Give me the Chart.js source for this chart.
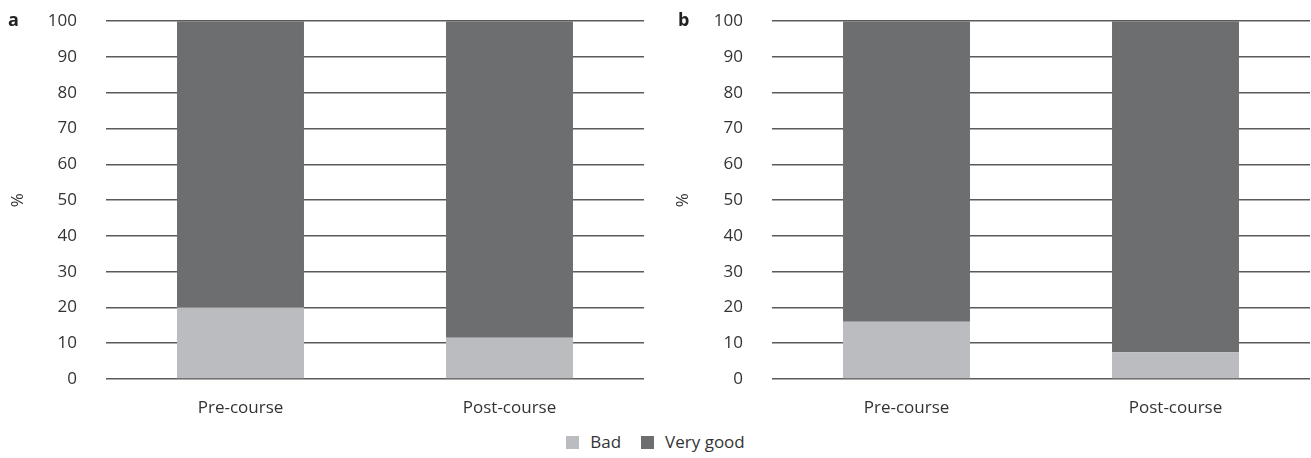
<!DOCTYPE html>
<html><head><meta charset="utf-8">
<script src="https://cdn.jsdelivr.net/npm/chart.js@4/dist/chart.umd.min.js"></script>
<style>
html,body{margin:0;padding:0;background:#fff;overflow:hidden;}
#wrap{position:relative;width:1311px;height:458px;font-family:"Open Sans",sans-serif;overflow:hidden;}
#ca{position:absolute;left:0;top:-18px;}
#cb{position:absolute;left:655px;top:-18px;}
#legend{position:absolute;top:430px;left:0;width:1311px;text-align:center;font-size:17px;color:#333;}
#legend span.box{display:inline-block;width:13px;height:13px;vertical-align:-1px;margin-right:11px;}
#legend span.item{margin:0 10px;}
</style></head>
<body>
<div id="wrap">
<canvas id="ca" width="655" height="438"></canvas>
<canvas id="cb" width="656" height="438"></canvas>
<div id="legend"></div>
</div>
<script>
const categories = ["Pre-course", "Post-course"];
const seriesNames = ["Bad", "Very good"];
const badA = [20, 11.5];
const veryGoodA = [80, 88.5];
const badB = [16, 7.5];
const veryGoodB = [84, 92.5];
const yTicks = [0, 10, 20, 30, 40, 50, 60, 70, 80, 90, 100];
const colors = ["#bbbcc0", "#6d6e70"];
const FONT = "'Open Sans', sans-serif";

function panelLabel(letter, x) {
  return {
    id: 'panel' + letter,
    afterDraw(chart) {
      const ctx = chart.ctx;
      ctx.save();
      ctx.font = "bold 18px " + FONT;
      ctx.fillStyle = "#222";
      ctx.textAlign = "left";
      ctx.textBaseline = "middle";
      ctx.fillText(letter, x, chart.chartArea.top);
      ctx.restore();
    }
  };
}

function makeChart(id, bad, good, letter, yWidth, padLeft, padRight, labelX) {
  return new Chart(document.getElementById(id), {
    type: 'bar',
    data: {
      labels: categories,
      datasets: [
        { label: seriesNames[0], data: bad, backgroundColor: colors[0], borderWidth: 0 },
        { label: seriesNames[1], data: good, backgroundColor: colors[1], borderWidth: 0 }
      ]
    },
    options: {
      responsive: false,
      animation: false,
      layout: { padding: { top: 2, left: padLeft, right: padRight, bottom: 0 } },
      plugins: { legend: { display: false }, tooltip: { enabled: false } },
      datasets: { bar: { categoryPercentage: 1, barPercentage: 0.472 } },
      scales: {
        x: {
          stacked: true,
          grid: { display: false, drawTicks: false },
          border: { display: false },
          ticks: { color: "#333", font: { family: FONT, size: 17 }, padding: 19 },
          afterFit(s) { s.height = 41; }
        },
        y: {
          stacked: true,
          min: 0, max: 100,
          afterBuildTicks(s) { s.ticks = yTicks.map(v => ({ value: v })); },
          grid: { color: "#5a5a5a", lineWidth: 1.5, drawTicks: false },
          border: { display: false },
          ticks: { color: "#333", font: { family: FONT, size: 17 }, padding: 29 },
          title: { display: true, text: "%", color: "#333", font: { family: FONT, size: 17 }, padding: { top: 8, bottom: 0 } },
          afterFit(s) { s.width = yWidth; }
        }
      }
    },
    plugins: [panelLabel(letter, labelX)]
  });
}

makeChart('ca', badA, veryGoodA, 'a', 106, 0, 11, 8);
makeChart('cb', badB, veryGoodB, 'b', 107, 10, 1, 23);

const lg = document.getElementById('legend');
seriesNames.forEach((n, i) => {
  const it = document.createElement('span');
  it.className = 'item';
  it.innerHTML = '<span class="box" style="background:' + colors[i] + '"></span>' + n;
  lg.appendChild(it);
});
</script>
</body></html>
